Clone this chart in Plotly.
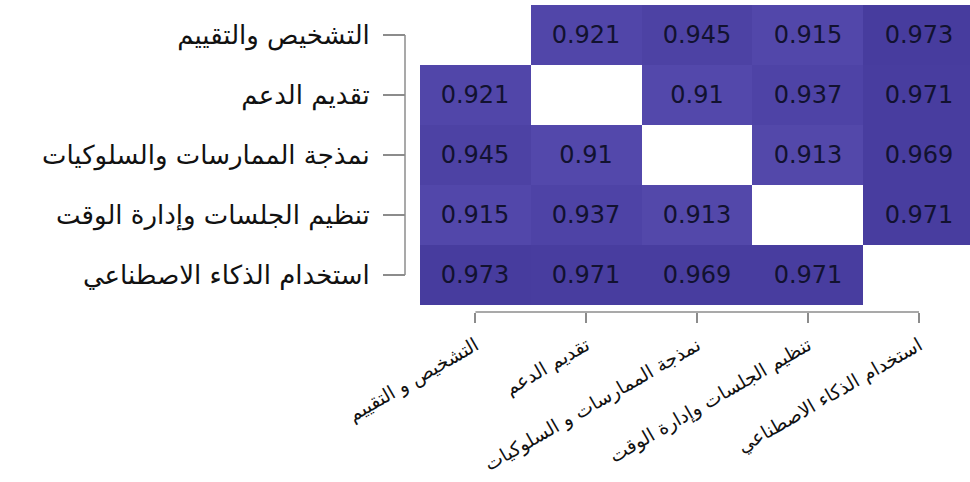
import plotly.graph_objects as go

# Construct names (rows top to bottom, columns left to right)
y_labels = [
    "التشخيص والتقييم",
    "تقديم الدعم",
    "نمذجة الممارسات والسلوكيات",
    "تنظيم الجلسات وإدارة الوقت",
    "استخدام الذكاء الاصطناعي",
]
x_labels = [
    "التشخيص و التقييم",
    "تقديم الدعم",
    "نمذجة الممارسات و السلوكيات",
    "تنظيم الجلسات وإدارة الوقت",
    "استخدام الذكاء الاصطناعي",
]

# Pairwise correlations; the diagonal is left empty
corr = [
    [None, 0.921, 0.945, 0.915, 0.973],
    [0.921, None, 0.910, 0.937, 0.971],
    [0.945, 0.910, None, 0.913, 0.969],
    [0.915, 0.937, 0.913, None, 0.971],
    [0.973, 0.971, 0.969, 0.971, None],
]

cell_text = [["" if v is None else f"{v:g}" for v in row] for row in corr]
idx = list(range(len(x_labels)))

W, H = 970, 482
ML, MR, MT, MB = 400, 0, 5, 152
pw, ph = W - ML - MR, H - MT - MB

def px_x(p):  # pixel -> paper x
    return (p - ML) / pw

def px_y(p):  # pixel -> paper y
    return (H - MB - p) / ph

axis_col = "#8c8c8c"

fig = go.Figure(
    go.Heatmap(
        z=corr,
        x=idx,
        y=idx,
        text=cell_text,
        texttemplate="%{text}",
        textfont=dict(family="DejaVu Sans", size=24, color="#121230"),
        colorscale=[[0.0, "#554aad"], [1.0, "#463b9d"]],
        zmin=0.90,
        zmax=0.98,
        showscale=False,
        hoverongaps=False,
    )
)

y_axis_x = px_x(405)
x_axis_y = px_y(312)

fig.update_layout(
    width=W,
    height=H,
    margin=dict(l=ML, r=MR, t=MT, b=MB, autoexpand=False),
    paper_bgcolor="white",
    plot_bgcolor="white",
    xaxis=dict(
        domain=[px_x(420), 1],
        range=[-0.5, 4.46],
        anchor="free",
        position=x_axis_y,
        tickmode="array",
        tickvals=idx,
        ticktext=x_labels,
        tickangle=-30,
        ticks="outside",
        ticklen=10,
        tickwidth=1.5,
        tickcolor=axis_col,
        ticklabelstandoff=4,
        tickfont=dict(family="DejaVu Sans", size=19, color="#111111"),
        showgrid=False,
        zeroline=False,
        showline=False,
        automargin=False,
    ),
    yaxis=dict(
        domain=[px_y(305), 1],
        range=[4.5, -0.5],
        anchor="free",
        position=y_axis_x,
        tickmode="array",
        tickvals=idx,
        ticktext=y_labels,
        ticks="outside",
        ticklen=22,
        tickwidth=1.5,
        tickcolor=axis_col,
        ticklabelstandoff=8,
        tickfont=dict(family="DejaVu Sans", size=26, color="#111111"),
        showgrid=False,
        zeroline=False,
        showline=False,
        automargin=False,
    ),
    shapes=[
        # bracket-style axis lines spanning first to last tick
        dict(type="line", xref="paper", yref="y", x0=y_axis_x, x1=y_axis_x,
             y0=idx[0], y1=idx[-1], line=dict(color=axis_col, width=1.5)),
        dict(type="line", xref="x", yref="paper", x0=idx[0], x1=idx[-1],
             y0=x_axis_y, y1=x_axis_y, line=dict(color=axis_col, width=1.5)),
    ],
)

fig.write_html("out.html")
